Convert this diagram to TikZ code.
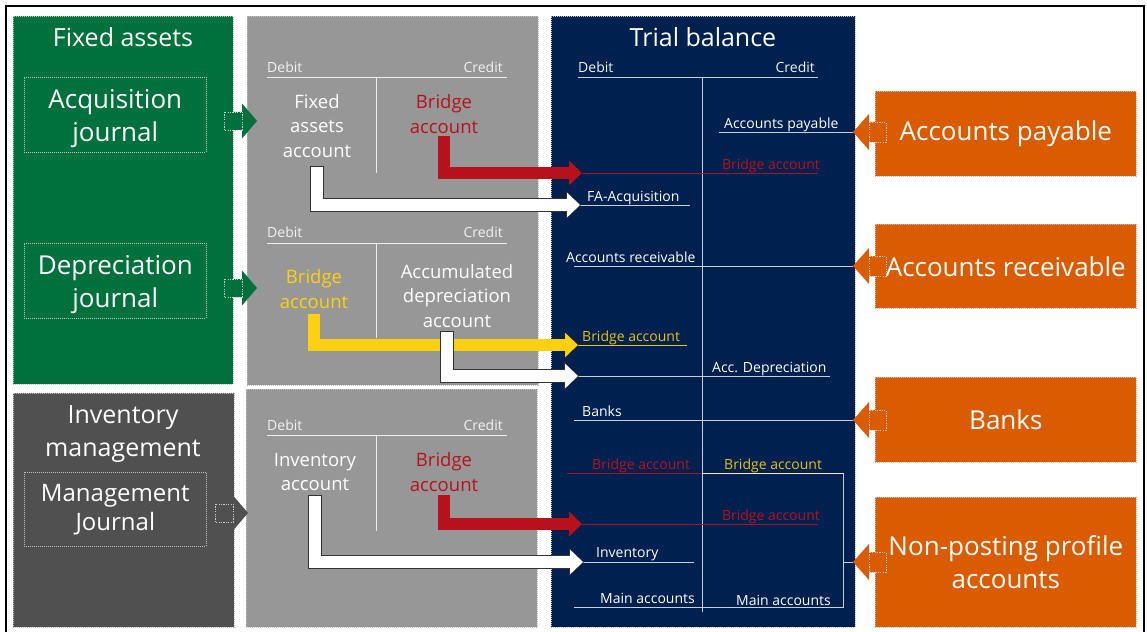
\documentclass[tikz,border=0pt]{standalone}
\usepackage{fontspec}
\setmainfont{Open Sans}
\usetikzlibrary{arrows.meta}

\definecolor{fagreen}{HTML}{00703C}
\definecolor{invgray}{HTML}{505050}
\definecolor{midgray}{HTML}{979797}
\definecolor{tbnavy}{HTML}{00204F}
\definecolor{acorange}{HTML}{DA5B00}
\definecolor{bridgered}{HTML}{B7121C}
\definecolor{bridgeyellow}{HTML}{FFD012}
\definecolor{linered}{HTML}{A0162A}
\definecolor{tbyellow}{HTML}{E8C11A}

\tikzset{
  panel/.style={anchor=north west, inner sep=0pt, draw=white!75!black,
                dash pattern=on 1pt off 1pt, line width=0.6pt, text=white, align=center},
  tailbox/.style={draw=white!80!black, dash pattern=on 1.2pt off 1.2pt, line width=0.5pt},
  bigtext/.style={font=\fontsize{26}{33}\selectfont},
  titletext/.style={text=white, font=\fontsize{25}{33}\selectfont, align=center},
  taccount/.style={font=\fontsize{18.5}{24.5}\selectfont, align=center, inner sep=0pt},
  headtext/.style={text=white!90!gray, font=\fontsize{14}{16}\selectfont, inner sep=0pt},
  entry/.style={text=white, font=\fontsize{14}{16}\selectfont, inner sep=0pt},
  tline/.style={draw=white!85!gray, line width=0.8pt},
  tbline/.style={draw=white!78!tbnavy, line width=0.8pt},
  flow/.style={line width=12pt, -{Triangle[length=13pt,width=24pt]}, line join=miter},
  flowedge/.style={line width=13.5pt, draw=gray!40!black, line join=miter,
                   -{Triangle[length=15pt,width=27pt]}, shorten <=-0.75pt, shorten >=-1pt},
  pics/blockright/.style={code={
    \fill[#1] (0,-9) -- (18,-9) -- (18,-17.5) -- (33,0) -- (18,17.5) -- (18,9) -- (0,9) -- cycle;
    \draw[tailbox] (0,-9) rectangle (18,9);
  }},
  pics/blockleft/.style={code={
    \fill[acorange] (33,-10) -- (16,-10) -- (16,-18) -- (0,0) -- (16,18) -- (16,10) -- (33,10) -- cycle;
    \draw[tailbox] (16,-10) rectangle (33,10);
  }},
}

\begin{document}
\begin{tikzpicture}[x=1pt, y=-1pt]
  \useasboundingbox (0,0) rectangle (1147,631);
  \draw[line width=2pt] (6,6) rectangle (1144,645);

  % Panels
  \node[panel, fill=fagreen, minimum width=220pt, minimum height=368pt] (fa) at (13,16) {};
  \node[panel, fill=invgray, minimum width=221pt, minimum height=234pt] (inv) at (13,393) {};
  \node[panel, fill=midgray, minimum width=291pt, minimum height=369pt] (tfa) at (247,16) {};
  \node[panel, fill=midgray, minimum width=291pt, minimum height=238pt] (tinv) at (246,389) {};
  \node[panel, fill=tbnavy, minimum width=304pt, minimum height=611pt] (tb) at (551,16) {};

  \node[panel, bigtext, fill=acorange, minimum width=261pt, minimum height=85pt] (ap) at (875,91) {Accounts payable};
  \node[panel, bigtext, fill=acorange, minimum width=261pt, minimum height=84pt] (ar) at (875,224) {Accounts receivable};
  \node[panel, bigtext, fill=acorange, minimum width=261pt, minimum height=85pt] (bk) at (875,377) {Banks};
  \node[panel, bigtext, fill=acorange, minimum width=261pt, minimum height=130pt] (np) at (875,497) {Non-posting profile\\accounts};

  % Titles and journals
  \node[titletext] (fatitle) at (123,37) {Fixed assets};
  \node[titletext] (invtitle) at (123,434) {Inventory\\management};
  \node[titletext] (tbtitle) at (703,37) {Trial balance};

  \node[panel, minimum width=182pt, minimum height=75pt] (acq) at (24,77) {};
  \node[titletext, bigtext] (acqtext) at ([yshift=-4pt]acq.center) {Acquisition\\journal};
  \node[panel, minimum width=182pt, minimum height=75pt] (dep) at (24,243) {};
  \node[titletext, bigtext] (deptext) at ([yshift=-4pt]dep.center) {Depreciation\\journal};
  \node[panel, font=\fontsize{24}{29}\selectfont, minimum width=182pt, minimum height=74pt] (mgmt) at (24,472) {Management\\Journal};

  \pic at (224,121) {blockright=fagreen};
  \pic at (224,288) {blockright=fagreen};
  \pic at (215,513) {blockright=invgray};

  \pic at (853,132) {blockleft};
  \pic at (853,266) {blockleft};
  \pic at (853,420) {blockleft};
  \pic at (853,562) {blockleft};

  % T accounts
  \draw[tline] (267,77) -- (507,77) (376,77) -- (376,173);
  \draw[tline] (267,243) -- (507,243) (376,243) -- (376,338);
  \draw[tline] (267,435) -- (507,435) (376,435) -- (376,531);
  \foreach \y in {73,237,430} {
    \node[headtext, anchor=base west] at (267,\y) {Debit};
    \node[headtext, anchor=base east] at (503,\y) {Credit};
  }
  \node[taccount, text=white] (facct) at (317,126) {Fixed\\assets\\account};
  \node[taccount, text=bridgered] (bra1) at (444,114) {Bridge\\account};
  \node[taccount, text=bridgeyellow] (bry) at (314,289) {Bridge\\account};
  \node[taccount, text=white] (accdep) at (457,296) {Accumulated\\depreciation\\account};
  \node[taccount, text=white] (invacc) at (315,472) {Inventory\\account};
  \node[taccount, text=bridgered] (bra2) at (444,472) {Bridge\\account};

  % Trial balance
  \node[headtext, anchor=base west] at (578,73) {Debit};
  \node[headtext, anchor=base east] at (815,73) {Credit};
  \draw[tbline] (578,77) -- (818,77) (702,77) -- (702,612);

  \coordinate (tbbr1) at (582,173);
  \coordinate (tbfa) at (580,205);
  \coordinate (tbbry) at (578,345);
  \coordinate (tbacc) at (578,376);
  \coordinate (tbbr2) at (582,524);
  \coordinate (tbinv) at (583,562);

  \draw[tbline] (719,132) -- (853,132);
  \node[entry, anchor=base west] at (724,129) {Accounts payable};
  \draw[linered, line width=0.8pt] (tbbr1) -- (818,173);
  \node[entry, text=bridgered, anchor=base east] at (820,169) {Bridge account};
  \draw[tbline] (tbfa) -- (690,205);
  \node[entry, anchor=base west] at (587,201) {FA-Acquisition};
  \draw[tbline] (574,266) -- (853,266);
  \node[entry, anchor=base west] at (566,262) {Accounts receivable};
  \draw[tbyellow, line width=0.8pt] (tbbry) -- (687,345);
  \node[entry, text=tbyellow, anchor=base west] at (582,341) {Bridge account};
  \draw[tbline] (tbacc) -- (830,376);
  \node[entry, anchor=base west] at (712,372) {Acc. Depreciation};
  \draw[tbline] (574,420) -- (853,420);
  \node[entry, anchor=base west] at (582,416) {Banks};
  \draw[linered, line width=0.8pt] (567,473) -- (702,473);
  \node[entry, text=bridgered, anchor=base west] at (592,469) {Bridge account};
  \draw[white!70!tbyellow, line width=0.8pt] (702,473) -- (843,473);
  \node[entry, text=tbyellow, anchor=base west] at (724,469) {Bridge account};
  \draw[tbline] (843,473) -- (843,607) -- (574,607) (843,562) -- (853,562);
  \draw[linered, line width=0.8pt] (tbbr2) -- (818,524);
  \node[entry, text=bridgered, anchor=base east] at (820,520) {Bridge account};
  \draw[tbline] (tbinv) -- (694,562);
  \node[entry, anchor=base west] at (596,557) {Inventory};
  \node[entry, anchor=base west] at (600,603) {Main accounts};
  \node[entry, anchor=base west] at (736,605) {Main accounts};

  % Flows
  \draw[flowedge] (facct.south |- 0,167) |- (tbfa);
  \draw[flow, draw=white] (facct.south |- 0,167) |- (tbfa);
  \draw[flow, draw=bridgered] (bra1.south |- 0,136) |- (tbbr1);
  \draw[flow, draw=bridgeyellow] (bry.south |- 0,314) |- (tbbry);
  \draw[flowedge] ([xshift=-10pt]accdep.south |- 0,332) |- (tbacc);
  \draw[flow, draw=white] ([xshift=-10pt]accdep.south |- 0,332) |- (tbacc);
  \draw[flow, draw=bridgered] (bra2.south |- 0,495) |- (tbbr2);
  \draw[flowedge] (invacc.south |- 0,496) |- (tbinv);
  \draw[flow, draw=white] (invacc.south |- 0,496) |- (tbinv);
\end{tikzpicture}
\end{document}
